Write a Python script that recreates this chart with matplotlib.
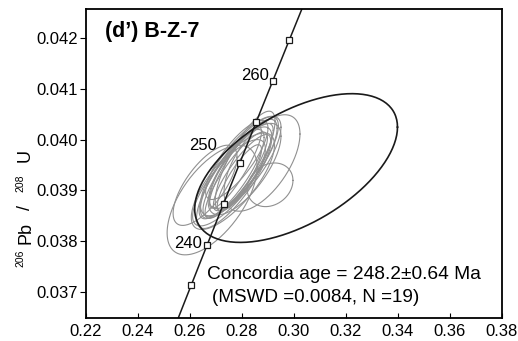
import numpy as np
import matplotlib
matplotlib.use("Agg")
import matplotlib.pyplot as plt

plt.rcParams['font.family'] = ['Liberation Sans', 'DejaVu Sans']

# decay constants (per year)
lam238 = 1.55125e-10
lam235 = 9.8485e-10

# concordia marker ages (Ma) and labelled ages
marker_ages = [235, 240, 245, 250, 255, 260, 265]
label_ages = [240, 250, 260]

# gray analysis ellipses: 207Pb/235U centre, 206Pb/238U centre, x half-range, y half-range, rho
ell_x = [0.2685, 0.2658, 0.2877, 0.2812, 0.2908,
         0.2785, 0.2790, 0.2778, 0.2795, 0.2770, 0.2805, 0.2765, 0.2800, 0.2775,
         0.2810, 0.2760, 0.2790, 0.2780, 0.2750]
ell_y = [0.03881, 0.03910, 0.03954, 0.03958, 0.03911,
         0.03940, 0.03945, 0.03930, 0.03948, 0.03925, 0.03952, 0.03918, 0.03935, 0.03945,
         0.03942, 0.03932, 0.03925, 0.03960, 0.03915]
ell_hx = [0.0173, 0.0123, 0.0146, 0.0115, 0.0088,
          0.0135, 0.0150, 0.0120, 0.0155, 0.0145, 0.0130, 0.0160, 0.0110, 0.0100,
          0.0140, 0.0125, 0.0085, 0.0120, 0.0140]
ell_hy = [0.00108, 0.00079, 0.00095, 0.00098, 0.00043,
          0.00092, 0.00100, 0.00085, 0.00098, 0.00100, 0.00088, 0.00095, 0.00075, 0.00080,
          0.00090, 0.00088, 0.00065, 0.00078, 0.00085]
ell_rho = [0.60, 0.70, 0.60, 0.80, 0.20,
           0.85, 0.82, 0.86, 0.78, 0.80, 0.80, 0.75, 0.85, 0.88,
           0.72, 0.82, 0.85, 0.80, 0.78]

# large black ellipse
big = (0.3008, 0.03944, 0.0390, 0.001465, 0.55)

title = "(d\u2019) B-Z-7"
age_line1 = "Concordia age = 248.2\u00b10.64 Ma"
age_line2 = "(MSWD =0.0084, N =19)"


def ellipse_xy(cx, cy, hx, hy, rho, n=200):
    t = np.linspace(0, 2 * np.pi, n)
    x = cx + hx * np.cos(t)
    y = cy + hy * (rho * np.cos(t) + np.sqrt(1 - rho ** 2) * np.sin(t))
    return x, y


def concordia(age_ma):
    t = np.asarray(age_ma) * 1e6
    return np.exp(lam235 * t) - 1, np.exp(lam238 * t) - 1


W, H = 518, 341
fig = plt.figure(figsize=(W / 100, H / 100), dpi=100)
ax = fig.add_axes([86 / W, 1 - 318 / H, 416 / W, 309 / H])

for cx, cy, hx, hy, r in zip(ell_x, ell_y, ell_hx, ell_hy, ell_rho):
    x, y = ellipse_xy(cx, cy, hx, hy, r)
    ax.plot(x, y, color='#909090', lw=0.8)

x, y = ellipse_xy(*big)
ax.plot(x, y, color='#1a1a1a', lw=1.2)

cx_line, cy_line = concordia(np.linspace(225, 275, 200))
ax.plot(cx_line, cy_line, color='#1a1a1a', lw=1.1)
mx, my = concordia(marker_ages)
ax.plot(mx, my, 's', ms=4.5, mfc='white', mec='#1a1a1a', mew=0.9, ls='none')

# age labels: (offset x pt, offset y pt, va)
label_pos = {240: (-4, 0.5, 'center'), 250: (-16.5, 7, 'bottom'), 260: (-3, -1.5, 'bottom')}
for a in label_ages:
    lx, ly = concordia(a)
    ox, oy, va = label_pos[a]
    ax.annotate(str(a), (lx, ly), xytext=(ox, oy), textcoords='offset points',
                ha='right', va=va, fontsize=12)

ax.text(105 / W, 1 - 31 / H, title, transform=fig.transFigure, fontsize=15.5,
        fontweight='bold', ha='left', va='center')
ax.text(0.26654, 0.037254, age_line1, fontsize=13.8, ha='left', va='baseline')
ax.text(0.2685, 0.036807, age_line2, fontsize=13.6, ha='left', va='baseline')

ax.set_xlim(0.22, 0.38)
ax.set_ylim(0.036486, 0.042573)
xt = np.arange(0.22, 0.381, 0.02)
ax.set_xticks(xt)
ax.set_xticklabels(["%.2f" % v for v in xt])
yt = np.arange(0.037, 0.0425, 0.001)
ax.set_yticks(yt)
ax.set_yticklabels(["%.3f" % v for v in yt])
ax.tick_params(axis='x', direction='in', length=3.5, labelsize=12, pad=4.5)
ax.tick_params(axis='y', direction='out', length=4, labelsize=12, pad=1.5)
for s in ax.spines.values():
    s.set_linewidth(1.3)

# y label built from pieces so the mass numbers stay small
ylab = [("206", 258.5, 25, 7.5), ("Pb", 233.5, 34, 13), ("/", 207, 34, 13),
        ("208", 183.5, 25, 7.5), ("U", 155, 34, 13)]
for s, py, px, fs in ylab:
    fig.text(px / W, 1 - py / H, s, rotation=90, ha='right', va='center', fontsize=fs)

fig.savefig("out.png", dpi=100)
